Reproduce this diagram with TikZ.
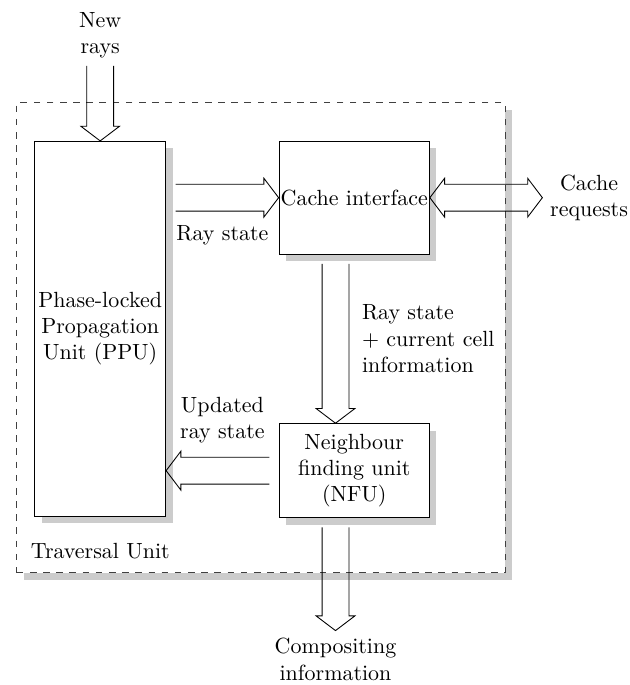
\documentclass[tikz,border=0pt]{standalone}
\usetikzlibrary{positioning, fit, calc, shadows, backgrounds}

\begin{document}
\begin{tikzpicture}[
    block/.style={draw, fill=white, inner sep=0pt, align=center,
        drop shadow={shadow xshift=3.2pt, shadow yshift=-3.2pt, fill=black!20, opacity=1}},
    area/.style={draw=black!75, dashed, fill=white, inner sep=0pt,
        drop shadow={shadow xshift=3.2pt, shadow yshift=-3.2pt, fill=black!20, opacity=1}},
    arr/.style={to path={
        ($(\tikztotarget)!2.35mm!(\tikztostart)$) coordinate (fb)
        ($(\tikztostart)!2.15mm!90:(\tikztotarget)$)
        -- ($(fb)!2.15mm!-90:(\tikztostart)$)
        -- ($(fb)!3.1mm!-90:(\tikztostart)$)
        -- (\tikztotarget)
        -- ($(fb)!3.1mm!90:(\tikztostart)$)
        -- ($(fb)!2.15mm!90:(\tikztostart)$)
        -- ($(\tikztostart)!2.15mm!-90:(\tikztotarget)$)}},
    arrboth/.style={to path={
        ($(\tikztostart)!2.35mm!(\tikztotarget)$) coordinate (fa)
        ($(\tikztotarget)!2.35mm!(\tikztostart)$) coordinate (fb)
        (\tikztostart)
        -- ($(fa)!3.1mm!90:(\tikztotarget)$)
        -- ($(fa)!2.15mm!90:(\tikztotarget)$)
        -- ($(fb)!2.15mm!-90:(\tikztostart)$)
        -- ($(fb)!3.1mm!-90:(\tikztostart)$)
        -- (\tikztotarget)
        -- ($(fb)!3.1mm!90:(\tikztostart)$)
        -- ($(fb)!2.15mm!90:(\tikztostart)$)
        -- ($(fa)!2.15mm!-90:(\tikztotarget)$)
        -- ($(fa)!3.1mm!-90:(\tikztotarget)$)
        -- cycle}}
    ]
\useasboundingbox (-1.603,-5.701) rectangle (8.477,5.259);

% units
\node[block, minimum width=2.096cm, minimum height=5.995cm] (ppu) {Phase-locked\\Propagation\\Unit (PPU)};
\node[block, minimum width=2.406cm, minimum height=1.803cm, right=1.8cm of ppu.north east, anchor=north west] (ci) {Cache interface};
\node[block, minimum width=2.406cm, minimum height=1.504cm, below=2.7cm of ci] (nfu) {Neighbour\\finding unit\\(NFU)};

% outside texts
\node[align=center, above=12mm of ppu.north] (rays) {New\\rays};
\node[align=center, right=1.8cm of ci.east] (req) {Cache\\requests};
\node[align=center, below=1.8cm of nfu.south, xshift=-3mm] (comp) {Compositing\\information};

% traversal unit
\coordinate (tl) at ($(ppu.north west)+(-2.8mm,6.1mm)$);
\coordinate (br) at ($(ppu.south -| ci.east)+(12.05mm,-9mm)$);
\begin{scope}[on background layer]
\node[area, fit=(tl) (br)] (tu) {};
\end{scope}
\node[above right=1mm and 1.1mm of tu.south west] (tulbl) {Traversal Unit};

% free ends
\coordinate (rstail) at ($(ppu.east |- ci.west)+(1.5mm,0)$);
\coordinate (citail) at ($(ci.south)+(-3mm,-1.5mm)$);
\coordinate (nfutip) at ($(nfu.north)+(-3mm,0)$);
\coordinate (urstail) at ($(nfu.west)+(-1.5mm,0)$);
\coordinate (urstip) at (ppu.east |- nfu.west);
\coordinate (comptail) at ($(nfu.south)+(-3mm,-1.5mm)$);

\draw[arr] (rays.south) to (ppu.north);
\draw[arr] (rstail) to (ci.west);
\draw[arrboth] (ci.east) to (req.west);
\draw[arr] (citail) to (nfutip);
\draw[arr] (urstail) to (urstip);
\draw[arr] (comptail) to (comp.north);

% arrow labels
\coordinate (m1) at ($(ppu.east |- ci.west)!0.5!(ci.west)$);
\node[below=3.2mm of m1] (rslbl) {Ray state};
\coordinate (m2) at ($(urstip)!0.5!(nfu.west)$);
\node[align=center, above=3.2mm of m2] (urslbl) {Updated\\ray state};
\node[right, align=left] (cilbl) at ($(ci.south)!0.5!(nfu.north)$) {Ray state\\+ current cell\\information};

\end{tikzpicture}
\end{document}
